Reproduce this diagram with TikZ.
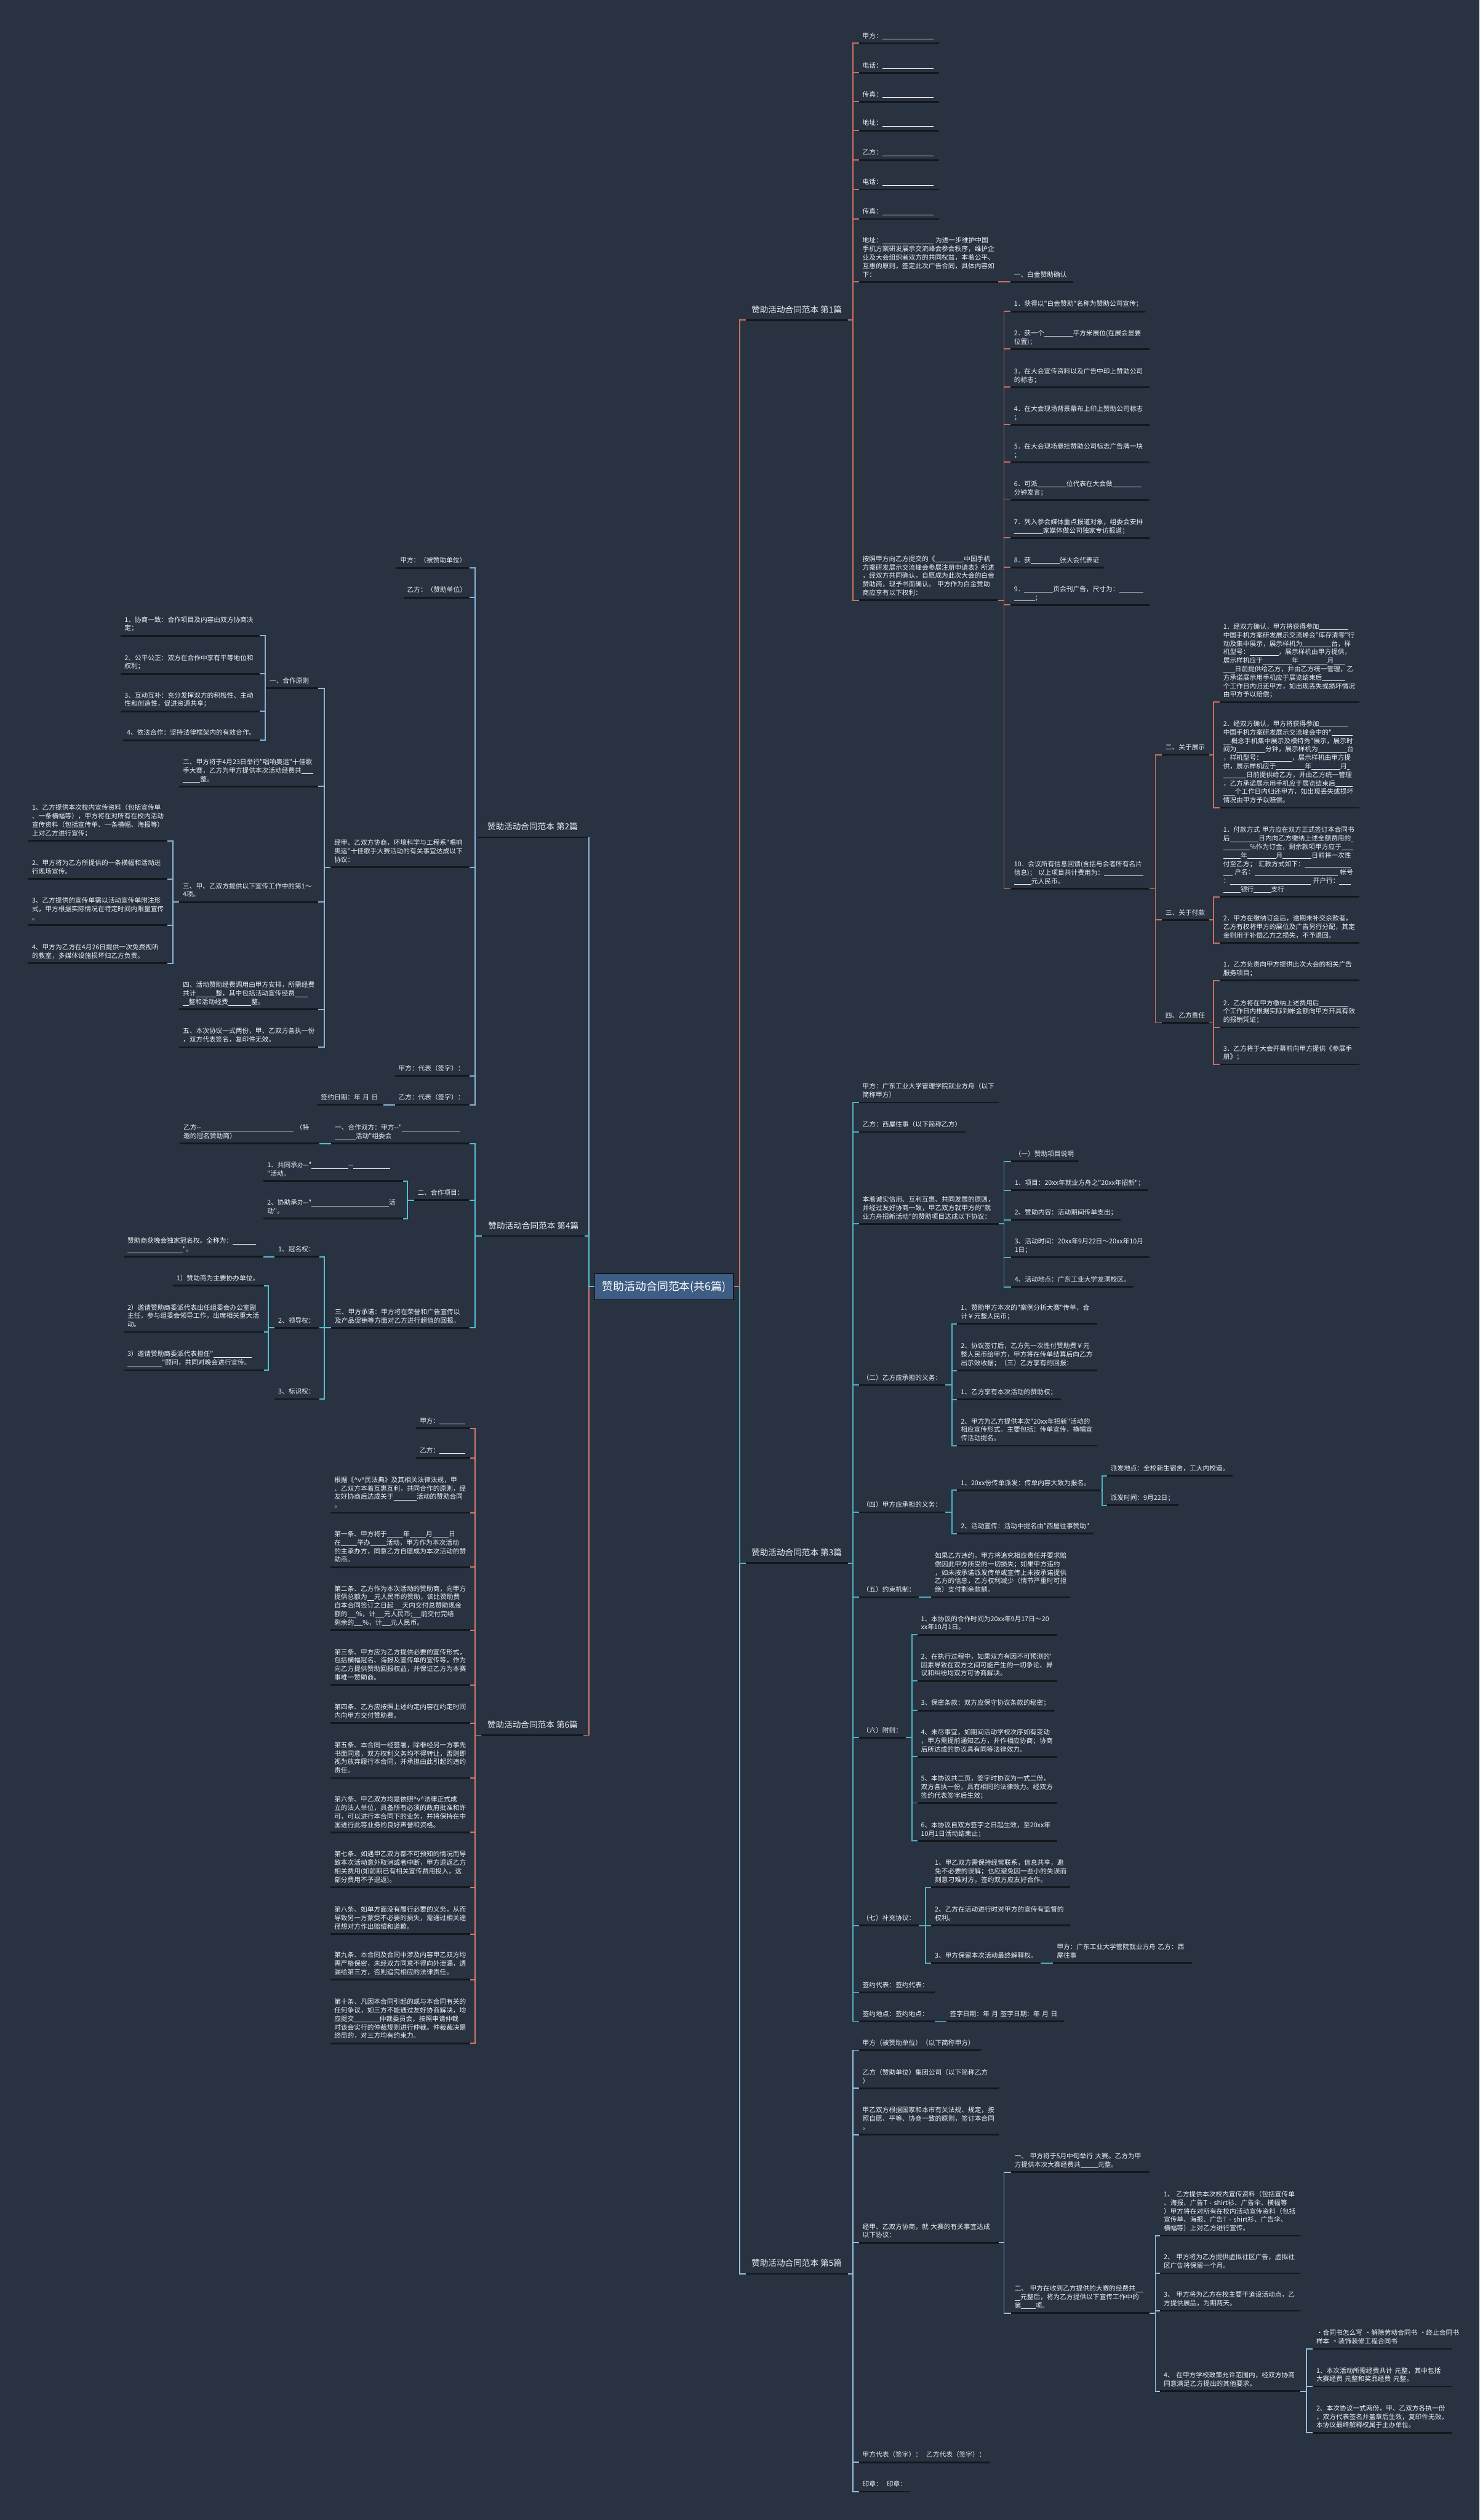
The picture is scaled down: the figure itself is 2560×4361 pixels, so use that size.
\documentclass[tikz,border=0pt]{standalone}
\usepackage{fontspec}
\newfontfamily\cjk{Noto Sans CJK SC}
\definecolor{bgc}{HTML}{283241}
\definecolor{ulc}{HTML}{14171C}
\definecolor{txc}{HTML}{EEF0F3}
\definecolor{hubc}{HTML}{3E5D85}
\definecolor{lr1}{HTML}{C9705F}
\definecolor{lr6}{HTML}{CC7A6E}
\definecolor{lb2}{HTML}{8DB3D6}
\definecolor{lc4}{HTML}{55BFD0}
\definecolor{lt3}{HTML}{4FB0BF}
\definecolor{lb5}{HTML}{96BDE0}
\newcommand\bl[1]{\rule[-1pt]{\dimexpr #1pt/2\relax}{0.5pt}}
\newcommand\vhat{\textasciicircum{}v\textasciicircum{}}
\tikzset{
  leaf/.style={font=\cjk\fontsize{5.7pt}{7.35pt}\selectfont, text=txc, inner xsep=3pt, inner ysep=2pt, align=left,
    execute at end node=\strut,
    append after command={(\tikzlastnode.south west) edge[draw=ulc,line width=1.5pt] (\tikzlastnode.south east)}},
  root/.style={font=\cjk\fontsize{7.25pt}{9pt}\selectfont, text=txc, inner xsep=0pt, inner ysep=3.5pt,
    execute at end node=\strut,
    append after command={(\tikzlastnode.south west) edge[draw=ulc,line width=1.5pt] (\tikzlastnode.south east)}},
  hub/.style={font=\cjk\fontsize{9.5pt}{11pt}\selectfont, text=white, fill=hubc, draw=ulc, line width=0.75pt,
    minimum width=120pt, minimum height=22.5pt, inner sep=0pt},
  con1/.style={draw=lr1,line width=1pt},
  con2/.style={draw=lb2,line width=1pt},
  con3/.style={draw=lt3,line width=1pt},
  con4/.style={draw=lc4,line width=1pt},
  con5/.style={draw=lb5,line width=1pt},
  con6/.style={draw=lr6,line width=1pt},
}
\newcommand\lf[5]{\pgfmathsetmacro\tw{(#3-#2-12)*0.5}\node[leaf,text width=\tw pt,anchor=south west] (#1) at (#2,#4) {#5};}
\newcommand\rt[5]{\node[root,minimum width=#4,anchor=south west] (#1) at (#2,#3) {#5};}
\newcommand\cR[4]{\draw[#1] (#2.south east) -- (#2.south east -| #3) |- (#4.south west);}
\newcommand\cL[4]{\draw[#1] (#2.south west) -- (#2.south west -| #3) |- (#4.south east);}
\begin{document}
\begin{tikzpicture}[x=0.5pt,y=-0.5pt]
\useasboundingbox (0,0) rectangle (2560,4361);
\fill[bgc] (0,0) rectangle (2560,4361);
% bar coordinates
\coordinate (kRc) at (1280,0);
\coordinate (kLc) at (1019,0);
\coordinate (k1) at (1476,0);
\coordinate (k1b) at (1737,0);
\coordinate (k1c) at (1999,0);
\coordinate (k1d) at (2100,0);
\coordinate (k3b) at (1647,0);
\coordinate (k3c) at (1907,0);
\coordinate (k3d) at (1578,0);
\coordinate (k3e) at (1601,0);
\coordinate (k5c) at (2260,0);
\coordinate (kL) at (822,0);
\coordinate (k2a) at (561,0);
\coordinate (k2b) at (459,0);
\coordinate (k2c) at (299,0);
\coordinate (k4a) at (705,0);
\coordinate (k4b) at (464,0);

\node[hub] (ctr) at (1149,2226.5) {赞助活动合同范本(共6篇)};

% ===== Branch 1 =====
\rt{R1}{1290}{554}{88pt}{赞助活动合同范本~第1篇}
\lf{a1}{1486}{1624}{75}{甲方：\bl{88}}
\lf{a2}{1486}{1624}{126}{电话：\bl{88}}
\lf{a3}{1486}{1624}{176}{传真：\bl{88}}
\lf{a4}{1486}{1624}{226}{地址：\bl{88}}
\lf{a5}{1486}{1624}{277}{乙方：\bl{88}}
\lf{a6}{1486}{1624}{328}{电话：\bl{88}}
\lf{a7}{1486}{1624}{379}{传真：\bl{88}}
\lf{a8}{1486}{1726}{488}{地址：\bl{88}~为进一步维护中国\\手机方案研发展示交流峰会参会秩序，维护企\\业及大会组织者双方的共同权益，本着公平、\\互惠的原则，签定此次广告合同，具体内容如\\下：}
\lf{a8c}{1748}{1856}{488}{一、白金赞助确认}
\lf{a9}{1486}{1726}{1039}{按照甲方向乙方提交的《\bl{50}中国手机\\方案研发展示交流峰会参展注册申请表》所述\\，经双方共同确认，自愿成为此次大会的白金\\赞助商，现予书面确认。~甲方作为白金赞助\\商应享有以下权利：}
\lf{c1}{1748}{1981}{539}{1．获得以"白金赞助"名称为赞助公司宣传；}
\lf{c2}{1748}{1988}{604}{2．获一个\bl{50}平方米展位(在展会显要\\位置)；}
\lf{c3}{1748}{1988}{670}{3．在大会宣传资料以及广告中印上赞助公司\\的标志；}
\lf{c4}{1748}{1988}{735}{4．在大会现场背景幕布上印上赞助公司标志\\；}
\lf{c5}{1748}{1988}{800}{5．在大会现场悬挂赞助公司标志广告牌一块\\；}
\lf{c6}{1748}{1988}{865}{6．可派\bl{50}位代表在大会做\bl{50}\\分钟发言；}
\lf{c7}{1748}{1988}{931}{7．列入参会媒体重点报道对象，组委会安排\\\bl{50}家媒体做公司独家专访报道；}
\lf{c8}{1748}{1909}{982}{8．获\bl{50}张大会代表证}
\lf{c9}{1748}{1988}{1047}{9．\bl{50}页会刊广告，尺寸为：\bl{42}\\\bl{36}；}
\lf{c10}{1748}{1988}{1538}{10．会议所有信息回馈(含括与会者所有名片\\信息)；~以上项目共计费用为：\bl{68}\\\bl{30}元人民币。}
\lf{d1}{2010}{2091}{1306}{二、关于展示}
\lf{d2}{2010}{2091}{1592}{三、关于付款}
\lf{d3}{2010}{2091}{1770}{四、乙方责任}
\lf{e1}{2110}{2351}{1215}{1．经双方确认，甲方将获得参加\bl{50}\\中国手机方案研发展示交流峰会"库存清零"行\\动及集中展示，展示样机为\bl{50}台，样\\机型号：\bl{50}，展示样机由甲方提供，\\展示样机应于\bl{50}年\bl{50}月\bl{20}\\\bl{20}日前提供给乙方，并由乙方统一管理，乙\\方承诺展示用手机应于展览结束后\bl{40}\\个工作日内归还甲方，如出现丢失或损坏情况\\由甲方予以赔偿；}
\lf{e2}{2110}{2351}{1398}{2．经双方确认，甲方将获得参加\bl{50}\\中国手机方案研发展示交流峰会中的"\bl{36}\\\bl{14}概念手机集中展示及模特秀"展示，展示时\\间为\bl{50}分钟，展示样机为\bl{50}台\\，样机型号：\bl{50}，展示样机由甲方提\\供，展示样机应于\bl{50}年\bl{50}月\bl{4}\\\bl{40}日前提供给乙方，并由乙方统一管理\\，乙方承诺展示用手机应于展览结束后\bl{30}\\\bl{20}个工作日内归还甲方，如出现丢失或损坏\\情况由甲方予以赔偿。}
\lf{e3}{2110}{2351}{1552}{1．付款方式~甲方应在双方正式签订本合同书\\后\bl{50}日内向乙方缴纳上述全额费用的\bl{4}\\\bl{46}\%作为订金，剩余款项甲方应于\bl{20}\\\bl{30}年\bl{50}月\bl{50}日前将一次性\\付至乙方；~汇款方式如下：\bl{80}\\\bl{16}~户名：\bl{144}~帐号\\：\bl{140}~开户行：\bl{20}\\\bl{30}银行\bl{30}支行}
\lf{e4}{2110}{2351}{1632}{2．甲方在缴纳订金后，逾期未补交余款者，\\乙方有权将甲方的展位及广告另行分配，其定\\金则用于补偿乙方之损失，不予退回。}
\lf{e5}{2110}{2351}{1697}{1．乙方负责向甲方提供此次大会的相关广告\\服务项目；}
\lf{e6}{2110}{2351}{1778}{2．乙方将在甲方缴纳上述费用后\bl{50}\\个工作日内根据实际到帐金额向甲方开具有效\\的报销凭证；}
\lf{e7}{2110}{2351}{1842}{3．乙方将于大会开幕前向甲方提供《参展手\\册》；}

% ===== Branch 3 =====
\rt{R3}{1290}{2705}{88pt}{赞助活动合同范本~第3篇}
\lf{f1}{1486}{1727}{1908}{甲方：广东工业大学管理学院就业方舟（以下\\简称甲方）}
\lf{f2}{1486}{1669}{1959}{乙方：西屋往事（以下简称乙方）}
\lf{f3}{1486}{1727}{2118}{本着诚实信用、互利互惠、共同发展的原则，\\并经过友好协商一致，甲乙双方就甲方的"就\\业方舟招新活动"的赞助项目达成以下协议：}
\lf{g1}{1749}{1864}{2010}{（一）赞助项目说明}
\lf{g2}{1749}{1986}{2060}{1、项目：20xx年就业方舟之"20xx年招新"；}
\lf{g3}{1749}{1938}{2111}{2、赞助内容：活动期间传单支出；}
\lf{g4}{1749}{1988}{2176}{3、活动时间：20xx年9月22日～20xx年10月\\1日；}
\lf{g5}{1749}{1960}{2227}{4、活动地点：广东工业大学龙洞校区。}
\lf{f4}{1486}{1635}{2397}{（二）乙方应承担的义务：}
\lf{h1}{1656}{1897}{2291}{1、赞助甲方本次的"案例分析大赛"传单，合\\计￥元整人民币；}
\lf{h2}{1656}{1897}{2372}{2、协议签订后，乙方先一次性付赞助费￥元\\整人民币给甲方，甲方将在传单结算后向乙方\\出示效收据；（三）乙方享有的回报：}
\lf{h3}{1656}{1835}{2422}{1、乙方享有本次活动的赞助权；}
\lf{h4}{1656}{1897}{2502}{2、甲方为乙方提供本次"20xx年招新"活动的\\相应宣传形式。主要包括：传单宣传，横幅宣\\传活动提名。}
\lf{f5}{1486}{1635}{2617}{（四）甲方应承担的义务：}
\lf{i1}{1656}{1904}{2579}{1、20xx份传单派发：传单内容大致为报名。}
\lf{j1}{1915}{2132}{2554}{派发地点：全校新生宿舍，工大内校道。}
\lf{j2}{1915}{2038}{2605}{派发时间：9月22日；}
\lf{i2}{1656}{1891}{2654}{2、活动宣传：活动中提名由"西屋往事赞助"}
\lf{f6}{1486}{1589}{2764}{（五）约束机制：}
\lf{k1n}{1611}{1851}{2764}{如果乙方违约，甲方将追究相应责任并要求赔\\偿因此甲方所受的一切损失；如果甲方违约\\，如未按承诺派发传单或宣传上未按承诺提供\\乙方的信息，乙方权利减少（情节严重时可拒\\绝）支付剩余款额。}
\lf{f7}{1486}{1566}{3007}{（六）附则：}
\lf{l1}{1587}{1828}{2829}{1、本协议的合作时间为20xx年9月17日～20\\xx年10月1日。}
\lf{l2}{1587}{1828}{2909}{2、在执行过程中，如果双方有因不可预测的'\\因素导致在双方之间可能产生的一切争论、异\\议和纠纷均双方可协商解决。}
\lf{l3}{1587}{1823}{2960}{3、保密条款：双方应保守协议条款的秘密；}
\lf{l4}{1587}{1828}{3040}{4、未尽事宜，如期间活动学校次序如有变动\\，甲方需提前通知乙方，并作相应协商；协商\\后所达成的协议具有同等法律效力。}
\lf{l5}{1587}{1828}{3120}{5、本协议共二页，签字时协议为一式二份，\\双方各执一份，具有相同的法律效力。经双方\\签约代表签字后生效；}
\lf{l6}{1587}{1828}{3186}{6、本协议自双方签字之日起生效，至20xx年\\10月1日活动结束止；}
\lf{f8}{1486}{1589}{3332}{（七）补充协议：}
\lf{m1}{1611}{1851}{3266}{1、甲乙双方需保持经常联系，信息共享，避\\免不必要的误解；也应避免因一些小的失误而\\刻意刁难对方，签约双方应友好合作。}
\lf{m2}{1611}{1851}{3332}{2、乙方在活动进行时对甲方的宣传有监督的\\权利。}
\lf{m3}{1611}{1800}{3397}{3、甲方保留本次活动最终解释权。}
\lf{m3c}{1822}{2062}{3397}{甲方：广东工业大学管院就业方舟~乙方：西\\屋往事}
\lf{f9}{1486}{1616}{3448}{签约代表：签约代表：}
\lf{f10}{1486}{1616}{3498}{签约地点：签约地点：}
\lf{f10c}{1637}{1840}{3498}{签字日期：年~月~签字日期：年~月~日}

% ===== Branch 5 =====
\rt{R5}{1290}{3935}{88pt}{赞助活动合同范本~第5篇}
\lf{n1}{1486}{1696}{3548}{甲方（被赞助单位）（以下简称甲方）}
\lf{n2}{1486}{1727}{3614}{乙方（赞助单位）集团公司（以下简称乙方\\）}
\lf{n3}{1486}{1727}{3694}{甲乙双方根据国家和本市有关法规、规定，按\\照自愿、平等、协商一致的原则，签订本合同\\。}
\lf{n4}{1486}{1727}{3881}{经甲、乙双方协商，就~大赛的有关事宜达成\\以下协议：}
\lf{o1}{1749}{1988}{3759}{一、~甲方将于5月中旬举行~大赛。乙方为甲\\方提供本次大赛经费共\bl{30}元整。}
\lf{o2}{1749}{1988}{4003}{二、~甲方在收到乙方提供的大赛的经费共\bl{14}\\\bl{10}元整后，将为乙方提供以下宣传工作中的\\第\bl{25}项。}
\lf{p1}{2007}{2249}{3869}{1、~乙方提供本次校内宣传资料（包括宣传单\\、海报、广告T~-~shirt衫、广告伞、横幅等\\）甲方将在对所有在校内活动宣传资料（包括\\宣传单、海报、广告T~-~shirt衫、广告伞、\\横幅等）上对乙方进行宣传。}
\lf{p2}{2007}{2249}{3934}{2、~甲方将为乙方提供虚拟社区广告，虚拟社\\区广告将保留一个月。}
\lf{p3}{2007}{2249}{3999}{3、~甲方将为乙方在校主要干道设活动点，乙\\方提供展品，为期两天。}
\lf{p4}{2007}{2249}{4138}{4、~在甲方学校政策允许范围内，经双方协商\\同意满足乙方提出的其他要求。}
\lf{q1}{2271}{2511}{4065}{·合同书怎么写~·解除劳动合同书~·终止合同书\\样本~·装饰装修工程合同书}
\lf{q2}{2271}{2511}{4130}{1、本次活动所需经费共计~元整，其中包括\\大赛经费~元整和奖品经费~元整。}
\lf{q3}{2271}{2511}{4210}{2、本次协议一式两份，甲、乙双方各执一份\\，双方代表签名并盖章后生效，复印件无效，\\本协议最终解释权属于主办单位。}
\lf{n5}{1486}{1712}{4261}{甲方代表（签字）：~~乙方代表（签字）：}
\lf{n6}{1486}{1574}{4312}{印章：~~印章：}

% ===== Branch 2 =====
\rt{R2}{824}{1449}{97pt}{赞助活动合同范本~第2篇}
\lf{r1}{686}{812}{983}{甲方：（被赞助单位）}
\lf{r2}{698}{812}{1034}{乙方：（赞助单位）}
\lf{r3}{572}{812}{1501}{经甲、乙双方协商，环境科学与工程系"唱响\\奥运"十佳歌手大赛活动的有关事宜达成以下\\协议：}
\lf{s1}{460}{550}{1191}{一、合作原则}
\lf{t1}{209}{449}{1100}{1、协商一致：合作项目及内容由双方协商决\\定；}
\lf{t2}{209}{449}{1166}{2、公平公正：双方在合作中享有平等地位和\\权利；}
\lf{t3}{209}{449}{1231}{3、互动互补：充分发挥双方的积极性、主动\\性和创造性，促进资源共享；}
\lf{t4}{213}{449}{1281}{4、依法合作：坚持法律框架内的有效合作。}
\lf{s2}{310}{550}{1361}{二、甲方将于4月23日举行"唱响奥运"十佳歌\\手大赛，乙方为甲方提供本次活动经费共\bl{20}\\\bl{30}整。}
\lf{s3}{310}{550}{1561}{三、甲、乙双方提供以下宣传工作中的第1～\\4项。}
\lf{u1}{49}{289}{1455}{1、乙方提供本次校内宣传资料（包括宣传单\\、一条横幅等），甲方将在对所有在校内活动\\宣传资料（包括宣传单、一条横幅、海报等）\\上对乙方进行宣传；}
\lf{u2}{49}{289}{1521}{2、甲方将为乙方所提供的一条横幅和活动进\\行现场宣传。}
\lf{u3}{49}{289}{1601}{3、乙方提供的宣传单需以活动宣传单附注形\\式，甲方根据实际情况在特定时间内限量宣传\\。}
\lf{u4}{49}{289}{1667}{4、甲方为乙方在4月26日提供一次免费视听\\的教室，多媒体设施损坏归乙方负责。}
\lf{s4}{310}{550}{1747}{四、活动赞助经费调用由甲方安排，所需经费\\共计\bl{34}整，其中包括活动宣传经费\bl{22}\\\bl{10}整和活动经费\bl{40}整。}
\lf{s5}{310}{550}{1812}{五、本次协议一式两份，甲、乙双方各执一份\\，双方代表签名，复印件无效。}
\lf{r4}{683}{812}{1862}{甲方：代表（签字）：}
\lf{r5}{683}{812}{1912}{乙方：代表（签字）：}
\lf{r5c}{549}{662}{1912}{签约日期：年~月~日}

% ===== Branch 4 =====
\rt{R4}{834}{2139}{88.5pt}{赞助活动合同范本~第4篇}
\lf{v1}{573}{812}{1979}{一、合作双方：甲方-{}-"\bl{100}\\\bl{36}活动"组委会}
\lf{v1c}{311}{552}{1979}{乙方-{}-\bl{160}~（特\\邀的冠名赞助商）}
\lf{v2}{716}{812}{2077}{二、合作项目：}
\lf{w1}{456}{697}{2044}{1、共同承办-{}-"\bl{64}-{}-\bl{64}\\"活动。}
\lf{w2}{456}{697}{2109}{2、协助承办-{}-"\bl{134}活\\动"。}
\lf{v3}{573}{812}{2298}{三、甲方承诺：甲方将在荣誉和广告宣传以\\及产品促销等方面对乙方进行超值的回报。}
\lf{xa}{475}{552}{2175}{1、冠名权：}
\lf{xac}{214}{455}{2175}{赞助商获晚会独家冠名权。全称为：\bl{40}\\\bl{96}"。}
\lf{xb}{475}{552}{2298}{2、领导权：}
\lf{y1}{299}{456}{2225}{1）赞助商为主要协办单位。}
\lf{y2}{214}{456}{2305}{2）邀请赞助商委派代表出任组委会办公室副\\主任，参与组委会领导工作，出席相关重大活\\动。}
\lf{y3}{214}{456}{2371}{3）邀请赞助商委派代表担任"\bl{66}\\\bl{60}"顾问，共同对晚会进行宣传。}
\lf{xc}{475}{552}{2421}{3、标识权：}

% ===== Branch 6 =====
\rt{R6}{833}{3003}{88pt}{赞助活动合同范本~第6篇}
\lf{z1}{720}{813}{2472}{甲方：\bl{44}}
\lf{z2}{720}{813}{2523}{乙方：\bl{44}}
\lf{z3}{572}{813}{2618}{根据《\vhat 民法典》及其相关法律法规，甲\\、乙双方本着互惠互利，共同合作的原则，经\\友好协商后达成关于\bl{40}活动的赞助合同\\。}
\lf{z4}{572}{813}{2712}{第一条、甲方将于\bl{28}年\bl{28}月\bl{28}日\\在\bl{28}举办\bl{28}活动，甲方作为本次活动\\的主承办方，同意乙方自愿成为本次活动的赞\\助商。}
\lf{z5}{572}{813}{2821}{第二条、乙方作为本次活动的赞助商，向甲方\\提供总额为\bl{12}元人民币的赞助，该比赞助费\\自本合同签订之日起\bl{15}天内交付总赞助现金\\额的\bl{15}\%，计\bl{15}元人民币;\bl{15}前交付完结\\剩余的\bl{15}\%，计\bl{15}元人民币。}
\lf{z6}{572}{813}{2916}{第三条、甲方应为乙方提供必要的宣传形式，\\包括横幅冠名、海报及宣传单的宣传等，作为\\向乙方提供赞助回报权益，并保证乙方为本赛\\事唯一赞助商。}
\lf{z7}{572}{813}{2982}{第四条、乙方应按照上述约定内容在约定时间\\内向甲方交付赞助费。}
\lf{z8}{572}{813}{3077}{第五条、本合同一经签署，除非经另一方事先\\书面同意，双方权利义务均不得转让，否则即\\视为放弃履行本合同，并承担由此引起的违约\\责任。}
\lf{z9}{572}{813}{3171}{第六条、甲乙双方均是依照\vhat 法律正式成\\立的法人单位，具备所有必须的政府批准和许\\可，可以进行本合同下的业务，并将保持在中\\国进行此等业务的良好声誉和资格。}
\lf{z10}{572}{813}{3266}{第七条、如遇甲乙双方都不可预知的情况而导\\致本次活动意外取消或者中断，甲方退返乙方\\相关费用(如前期已有相关宣传费用投入，这\\部分费用不予退返)。}
\lf{z11}{572}{813}{3347}{第八条、如单方面没有履行必要的义务，从而\\导致另一方蒙受不必要的损失，需通过相关途\\径想对方作出赔偿和道歉。}
\lf{z12}{572}{813}{3426}{第九条、本合同及合同中涉及内容甲乙双方均\\需严格保密，未经双方同意不得向外泄漏，透\\漏给第三方，否则追究相应的法律责任。}
\lf{z13}{572}{813}{3536}{第十条、凡因本合同引起的或与本合同有关的\\任何争议，如三方不能通过友好协商解决，均\\应提交\bl{44}仲裁委员会，按照申请仲裁\\时该会实行的仲裁规则进行仲裁。仲裁裁决是\\终局的，对三方均有约束力。}

% ===== Connectors =====
\draw[con5] (ctr.east) -- (ctr.east -| kRc) |- (R5.south west);
\draw[con3] (ctr.east) -- (ctr.east -| kRc) |- (R3.south west);
\draw[con1] (ctr.east) -- (ctr.east -| kRc) |- (R1.south west);
\draw[con6] (ctr.west) -- (ctr.west -| kLc) |- (R6.south east);
\draw[con2] (ctr.west) -- (ctr.west -| kLc) |- (R2.south east);
\draw[con4] (ctr.west) -- (ctr.west -| kLc) |- (R4.south east);

\foreach \c in {a1,a2,a3,a4,a5,a6,a7,a8,a9} {\cR{con1}{R1}{k1}{\c}}
\draw[con1] (a8.south east) -- (a8c.south west);
\foreach \c in {c1,c2,c3,c4,c5,c6,c7,c8,c9,c10} {\cR{con1}{a9}{k1b}{\c}}
\foreach \c in {d1,d2,d3} {\cR{con1}{c10}{k1c}{\c}}
\foreach \c in {e1,e2} {\cR{con1}{d1}{k1d}{\c}}
\foreach \c in {e3,e4} {\cR{con1}{d2}{k1d}{\c}}
\foreach \c in {e5,e6,e7} {\cR{con1}{d3}{k1d}{\c}}

\foreach \c in {f1,f2,f3,f4,f5,f6,f7,f8,f9,f10} {\cR{con3}{R3}{k1}{\c}}
\foreach \c in {g1,g2,g3,g4,g5} {\cR{con3}{f3}{k1b}{\c}}
\foreach \c in {h1,h2,h3,h4} {\cR{con3}{f4}{k3b}{\c}}
\foreach \c in {i1,i2} {\cR{con3}{f5}{k3b}{\c}}
\foreach \c in {j1,j2} {\cR{con3}{i1}{k3c}{\c}}
\draw[con3] (f6.south east) -- (k1n.south west);
\foreach \c in {l1,l2,l3,l4,l5,l6} {\cR{con3}{f7}{k3d}{\c}}
\foreach \c in {m1,m2,m3} {\cR{con3}{f8}{k3e}{\c}}
\draw[con3] (m3.south east) -- (m3c.south west);
\draw[con3] (f10.south east) -- (f10c.south west);

\foreach \c in {n1,n2,n3,n4,n5,n6} {\cR{con5}{R5}{k1}{\c}}
\foreach \c in {o1,o2} {\cR{con5}{n4}{k1b}{\c}}
\foreach \c in {p1,p2,p3,p4} {\cR{con5}{o2}{k1c}{\c}}
\foreach \c in {q1,q2,q3} {\cR{con5}{p4}{k5c}{\c}}

\foreach \c in {r1,r2,r3,r4,r5} {\cL{con2}{R2}{kL}{\c}}
\foreach \c in {s1,s2,s3,s4,s5} {\cL{con2}{r3}{k2a}{\c}}
\foreach \c in {t1,t2,t3,t4} {\cL{con2}{s1}{k2b}{\c}}
\foreach \c in {u1,u2,u3,u4} {\cL{con2}{s3}{k2c}{\c}}
\draw[con2] (r5.south west) -- (r5c.south east);

\foreach \c in {v1,v2,v3} {\cL{con4}{R4}{kL}{\c}}
\draw[con4] (v1.south west) -- (v1c.south east);
\foreach \c in {w1,w2} {\cL{con4}{v2}{k4a}{\c}}
\foreach \c in {xa,xb,xc} {\cL{con4}{v3}{k2a}{\c}}
\draw[con4] (xa.south west) -- (xac.south east);
\foreach \c in {y1,y2,y3} {\cL{con4}{xb}{k4b}{\c}}

\foreach \c in {z1,z2,z3,z4,z5,z6,z7,z8,z9,z10,z11,z12,z13} {\cL{con6}{R6}{kL}{\c}}
\end{tikzpicture}
\end{document}
